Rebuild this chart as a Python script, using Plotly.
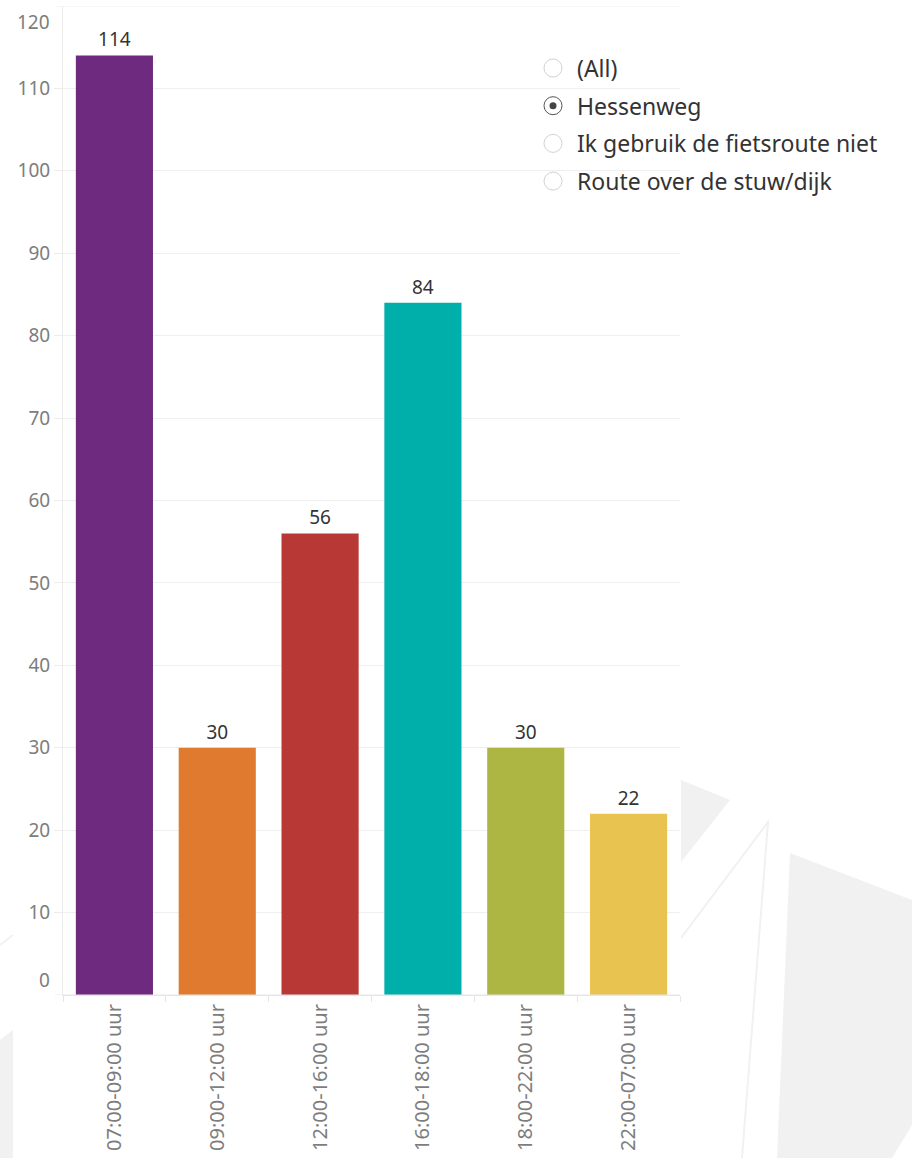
import plotly.graph_objects as go

categories = ["07:00-09:00 uur", "09:00-12:00 uur", "12:00-16:00 uur",
              "16:00-18:00 uur", "18:00-22:00 uur", "22:00-07:00 uur"]
values = [114, 30, 56, 84, 30, 22]
bar_colors = ["#6e2a7e", "#e07a2f", "#b83836", "#00aeaa", "#aeb643", "#e9c34f"]
y_ticks = [10, 20, 30, 40, 50, 60, 70, 80, 90, 100, 110]
y_edge_ticks = [0, 120]
filter_options = ["(All)", "Hessenweg", "Ik gebruik de fietsroute niet", "Route over de stuw/dijk"]
selected_option = "Hessenweg"

FONT = "Noto Sans"
W, H = 912, 1158
L, R, T, B = 63, 232, 6, 163
PW, PH = W - L - R, H - T - B


def px(x):
    return (x - L) / PW


def py(y):
    return (H - B - y) / PH


fig = go.Figure()
fig.add_trace(go.Bar(
    x=categories, y=values,
    marker=dict(color=bar_colors, line=dict(width=0)),
    text=[str(v) for v in values], textposition="outside",
    textfont=dict(family=FONT, size=19, color="#333333"),
    cliponaxis=False, width=0.75,
))

shapes = []
grey = "#f1f1f1"
# decorative background shapes
shapes.append(dict(type="path", xref="paper", yref="paper", layer="below",
                   path=f"M {px(790)} {py(853)} L {px(912)} {py(900)} L {px(912)} {py(1125)} L {px(892)} {py(1158)} L {px(777)} {py(1158)} Z",
                   fillcolor=grey, line=dict(width=0)))
shapes.append(dict(type="path", xref="paper", yref="paper", layer="below",
                   path=f"M {px(681)} {py(780)} L {px(730)} {py(800)} L {px(681)} {py(862)} Z",
                   fillcolor=grey, line=dict(width=0)))
shapes.append(dict(type="path", xref="paper", yref="paper", layer="below",
                   path=f"M {px(681)} {py(938)} L {px(768)} {py(822)} L {px(742)} {py(1158)}",
                   line=dict(color=grey, width=2)))
shapes.append(dict(type="path", xref="paper", yref="paper", layer="below",
                   path=f"M {px(0)} {py(1040)} L {px(13)} {py(1030)} L {px(13)} {py(1158)} L {px(0)} {py(1158)} Z",
                   fillcolor=grey, line=dict(width=0)))
shapes.append(dict(type="path", xref="paper", yref="paper", layer="below",
                   path=f"M {px(0)} {py(945)} L {px(13)} {py(935)}",
                   line=dict(color=grey, width=2)))

annotations = []
# edge tick labels (shifted inward like the original)
annotations.append(dict(x=0, xref="paper", y=y_edge_ticks[0], yref="y", text=str(y_edge_ticks[0]),
                        showarrow=False, xanchor="right", xshift=-11, yshift=15,
                        font=dict(family=FONT, size=19, color="#7d7d7d")))
annotations.append(dict(x=0, xref="paper", y=y_edge_ticks[1], yref="y", text=str(y_edge_ticks[1]),
                        showarrow=False, xanchor="right", xshift=-11, yshift=-16,
                        font=dict(family=FONT, size=19, color="#7d7d7d")))

# filter (radio list)
y0 = 68
for i, opt in enumerate(filter_options):
    yc = y0 + i * 37.7
    sel = opt == selected_option
    shapes.append(dict(type="circle", xref="paper", yref="paper",
                       x0=px(544), x1=px(562), y0=py(yc + 9), y1=py(yc - 9),
                       line=dict(color="#555555" if sel else "#d2d2d2", width=1),
                       fillcolor="white"))
    if sel:
        shapes.append(dict(type="circle", xref="paper", yref="paper",
                           x0=px(549.5), x1=px(556.5), y0=py(yc + 3.5), y1=py(yc - 3.5),
                           line=dict(width=0), fillcolor="#444444"))
    annotations.append(dict(x=px(575), y=py(yc), xref="paper", yref="paper", text=opt,
                            showarrow=False, xanchor="left", yanchor="middle",
                            font=dict(family=FONT, size=23, color="#333333")))

fig.update_layout(
    width=W, height=H,
    margin=dict(l=L, r=R, t=T, b=B),
    paper_bgcolor="white", plot_bgcolor="white",
    showlegend=False, bargap=0.25,
    shapes=shapes, annotations=annotations,
    font=dict(family=FONT),
    xaxis=dict(
        type="category", tickangle=-90, tickson="boundaries",
        ticks="outside", ticklen=6, tickcolor="#e6e6e6",
        showline=True, linecolor="#e6e6e6", linewidth=1,
        showgrid=False,
        tickfont=dict(family=FONT, size=20, color="#7d7d7d"),
    ),
    yaxis=dict(
        range=[0, 120], tickvals=y_ticks, ticktext=[str(t) for t in y_ticks],
        ticks="outside", ticklen=8, tickcolor="#ececec",
        showline=True, linecolor="#ececec", linewidth=1,
        showgrid=True, gridcolor="#efefef", gridwidth=1,
        zeroline=False,
        tickfont=dict(family=FONT, size=19, color="#7d7d7d"),
    ),
)
# top border line at 120 and baseline extension
fig.add_shape(type="line", xref="paper", yref="y", x0=-8 / PW, x1=1, y0=120, y1=120,
              line=dict(color="#efefef", width=1))
fig.add_shape(type="line", xref="paper", yref="y", x0=-8 / PW, x1=1, y0=0, y1=0,
              line=dict(color="#e6e6e6", width=1))

fig.write_html("out.html", config={"displayModeBar": False},
               post_script="document.body.style.margin='0px';")
